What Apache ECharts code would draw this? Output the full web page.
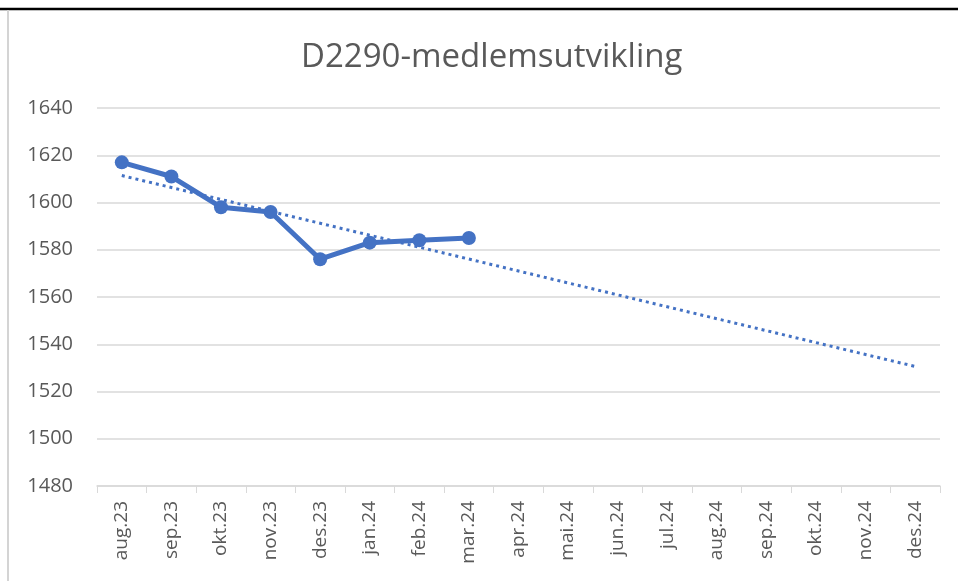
<!DOCTYPE html>
<html>
<head>
<meta charset="utf-8">
<script src="https://cdn.jsdelivr.net/npm/echarts@6/dist/echarts.min.js"></script>
<style>html,body{margin:0;padding:0;background:#fff}#c{width:958px;height:581px}</style>
</head>
<body>
<div id="c"></div>
<script>
var titleText = 'D2290-medlemsutvikling';
var categories = ['aug.23','sep.23','okt.23','nov.23','des.23','jan.24','feb.24','mar.24','apr.24','mai.24','jun.24','jul.24','aug.24','sep.24','okt.24','nov.24','des.24'];
var members = [1617, 1611, 1598, 1596, 1576, 1583, 1584, 1585];
// dotted trendline: read endpoints (aug.23 and des.24) from the picture
var trend = [1611.4, null, null, null, null, null, null, null, null, null, null, null, null, null, null, null, 1530.6];
var yMin = 1480, yMax = 1640, yStep = 20;

var chart = echarts.init(document.getElementById('c'), null, {renderer: 'canvas'});
var FONT = '"Open Sans", sans-serif';
chart.setOption({
  animation: false,
  backgroundColor: '#ffffff',
  title: {
    text: titleText,
    left: 296,
    top: 36,
    textStyle: {fontFamily: FONT, fontSize: 33, fontWeight: 'normal', color: '#595959'}
  },
  graphic: [
    {type: 'line', shape: {x1: 0, y1: 9, x2: 958, y2: 9}, style: {stroke: '#000', lineWidth: 2.5}},
    {type: 'line', shape: {x1: 8, y1: 10, x2: 8, y2: 581}, style: {stroke: '#d4d4d4', lineWidth: 2}}
  ],
  grid: {left: 97, right: 18, top: 108, bottom: 95, containLabel: false},
  xAxis: {
    type: 'category',
    data: categories,
    boundaryGap: true,
    axisLine: {lineStyle: {color: '#d9d9d9', width: 1.5}},
    axisTick: {show: true, length: 7, lineStyle: {color: '#d9d9d9'}},
    axisLabel: {rotate: 90, margin: 15, interval: 0, fontFamily: FONT, fontSize: 19, color: '#595959'}
  },
  yAxis: {
    type: 'value',
    min: yMin, max: yMax, interval: yStep,
    axisLine: {show: false},
    axisTick: {show: false},
    axisLabel: {margin: 24, fontFamily: FONT, fontSize: 20, color: '#595959', formatter: function (v) { return String(v); }},
    splitLine: {lineStyle: {color: '#d9d9d9', width: 1.5}}
  },
  series: [
    {
      type: 'line',
      data: trend,
      connectNulls: true,
      showSymbol: false,
      symbol: 'none',
      lineStyle: {color: '#4472C4', width: 3, type: [3, 4]},
      z: 1
    },
    {
      type: 'line',
      data: members,
      symbol: 'circle',
      symbolSize: 14,
      itemStyle: {color: '#4472C4'},
      lineStyle: {color: '#4472C4', width: 5},
      z: 2
    }
  ]
});
</script>
</body>
</html>
